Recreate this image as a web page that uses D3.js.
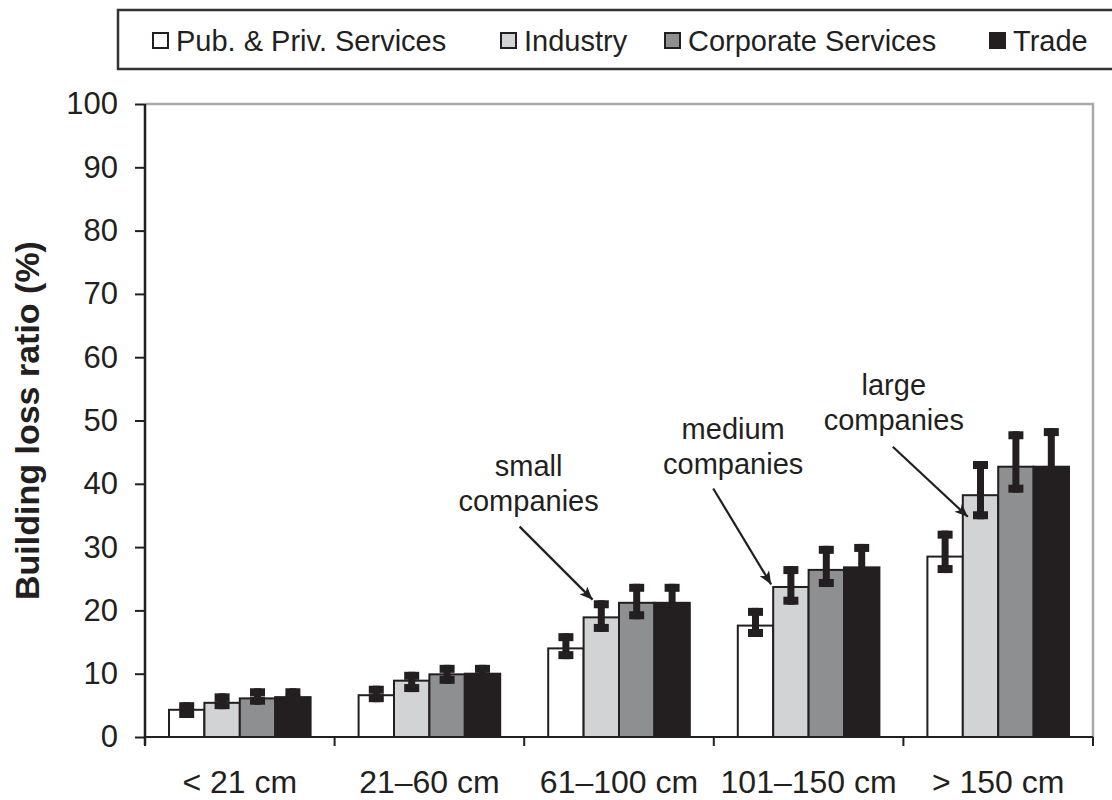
<!DOCTYPE html>
<html>
<head>
<meta charset="utf-8">
<script src="https://cdn.jsdelivr.net/npm/d3@7"></script>
<style>
  body { margin: 0; background: #fff; }
  text { font-family: "Liberation Sans", Arial, sans-serif; fill: #231f20; }
</style>
</head>
<body>
<div class="content"></div>
<script>
// Categories and series
var categories = ["< 21 cm", "21–60 cm", "61–100 cm", "101–150 cm", "> 150 cm"];
var seriesNames = ["Pub. & Priv. Services", "Industry", "Corporate Services", "Trade"];

// Bar values (%), one array per series
var pubValues       = [4.3, 6.6, 14.0, 17.6, 28.5];
var industryValues  = [5.4, 8.9, 18.9, 23.7, 38.2];
var corporateValues = [6.1, 9.9, 21.2, 26.4, 42.7];
var tradeValues     = [6.3, 10.0, 21.2, 26.8, 42.7];

// Error bars: distance above / below the bar top
var pubErrUp        = [1.2, 1.5, 2.4, 2.8, 4.1];
var industryErrUp   = [1.5, 1.4, 2.7, 3.3, 5.4];
var corporateErrUp  = [1.6, 1.5, 3.0, 3.8, 5.6];
var tradeErrUp      = [1.4, 1.4, 3.0, 3.7, 6.1];
var pubErrDown       = [1.3, 1.1, 1.7, 1.8, 2.6];
var industryErrDown  = [1.0, 1.8, 2.3, 2.8, 3.8];
var corporateErrDown = [1.0, 1.5, 2.6, 2.7, 4.1];
var tradeErrDown     = [1.0, 1.5, 2.6, 2.7, 4.1];

var yTicks = [0, 10, 20, 30, 40, 50, 60, 70, 80, 90, 100];

var seriesColors = ["#ffffff", "#d1d3d4", "#8e8f91", "#231f20"];
var ink = "#231f20";

var allValues = [pubValues, industryValues, corporateValues, tradeValues];
var allErrUp = [pubErrUp, industryErrUp, corporateErrUp, tradeErrUp];
var allErrDown = [pubErrDown, industryErrDown, corporateErrDown, tradeErrDown];

// flat table for the bars
var bars = [];
categories.forEach(function(c, ci) {
  seriesNames.forEach(function(s, si) {
    bars.push({cat: c, series: s, si: si,
               value: allValues[si][ci], up: allErrUp[si][ci], down: allErrDown[si][ci]});
  });
});

var width = 1112, height = 800;
var plot = {left: 145, right: 1093, top: 104, bottom: 737};

var svg = d3.select(".content").append("svg")
    .attr("width", width)
    .attr("height", height);

var x = d3.scaleBand()
  .domain(categories)
  .range([plot.left, plot.right])
  .padding(0);

var xSub = d3.scaleBand()
  .domain(seriesNames)
  .range([24, x.bandwidth() - 24])
  .padding(0);

var y = d3.scaleLinear()
  .domain([0, 100])
  .range([plot.bottom, plot.top]);

// gray frame top and right
svg.append("path")
  .attr("d", "M" + plot.left + "," + plot.top + "H" + plot.right + "V" + plot.bottom)
  .attr("fill", "none")
  .attr("stroke", "#a7a9ac")
  .attr("stroke-width", 2.5);

// Y axis
var yAxis = svg.append("g")
  .attr("transform", "translate(" + plot.left + ",0)")
  .call(d3.axisLeft(y).tickValues(yTicks).tickSize(10).tickPadding(17).tickSizeOuter(0));
yAxis.select(".domain").remove();
yAxis.selectAll(".tick line").attr("stroke", ink).attr("stroke-width", 2);
yAxis.selectAll(".tick text")
  .style("font-size", "31px")
  .style("font-family", "'Liberation Sans', Arial, sans-serif")
  .attr("fill", ink);

// X axis labels
var xAxis = svg.append("g")
  .attr("transform", "translate(0," + plot.bottom + ")")
  .call(d3.axisBottom(x).tickSize(0).tickPadding(33));
xAxis.select(".domain").remove();
xAxis.selectAll(".tick text")
  .style("font-size", "32px")
  .style("font-family", "'Liberation Sans', Arial, sans-serif")
  .attr("fill", ink);

// boundary ticks on the x axis
svg.append("g").selectAll("line")
  .data(d3.range(categories.length + 1))
  .enter().append("line")
    .attr("x1", function(i) { return plot.left + i * x.step(); })
    .attr("x2", function(i) { return plot.left + i * x.step(); })
    .attr("y1", plot.bottom)
    .attr("y2", plot.bottom + 9)
    .attr("stroke", ink)
    .attr("stroke-width", 2);

// Bars
svg.append("g").selectAll("rect")
  .data(bars)
  .enter().append("rect")
    .attr("x", function(d) { return x(d.cat) + xSub(d.series); })
    .attr("y", function(d) { return y(d.value); })
    .attr("width", xSub.bandwidth())
    .attr("height", function(d) { return y(0) - y(d.value); })
    .attr("fill", function(d) { return seriesColors[d.si]; })
    .attr("stroke", ink)
    .attr("stroke-width", 2);

// Error bars (thick I shape)
var capW = 15, capH = 8, stemW = 7;
var eb = svg.append("g").selectAll("g")
  .data(bars)
  .enter().append("g")
    .attr("transform", function(d) {
      return "translate(" + (x(d.cat) + xSub(d.series) + xSub.bandwidth() / 2) + ",0)";
    });
eb.append("rect")
  .attr("x", -stemW / 2)
  .attr("y", function(d) { return y(d.value + d.up); })
  .attr("width", stemW)
  .attr("height", function(d) { return y(d.value - d.down) - y(d.value + d.up); })
  .attr("fill", ink);
eb.append("rect")
  .attr("x", -capW / 2)
  .attr("y", function(d) { return y(d.value + d.up); })
  .attr("width", capW)
  .attr("height", capH)
  .attr("fill", ink);
eb.append("rect")
  .attr("x", -capW / 2)
  .attr("y", function(d) { return y(d.value - d.down) - capH; })
  .attr("width", capW)
  .attr("height", capH)
  .attr("fill", ink);

// Y axis line (drawn on top of bars' left edge)
svg.append("line")
  .attr("x1", plot.left).attr("x2", plot.left)
  .attr("y1", plot.top).attr("y2", plot.bottom + 8)
  .attr("stroke", ink)
  .attr("stroke-width", 2.5);
// X axis line
svg.append("line")
  .attr("x1", plot.left).attr("x2", plot.right)
  .attr("y1", plot.bottom).attr("y2", plot.bottom)
  .attr("stroke", ink)
  .attr("stroke-width", 2);

// Y axis title
svg.append("text")
  .attr("transform", "translate(39," + ((plot.top + plot.bottom) / 2) + ") rotate(-90)")
  .attr("text-anchor", "middle")
  .style("font-size", "34px")
  .style("font-weight", "bold")
  .text("Building loss ratio (%)");

// Annotations with arrows
var annotations = [
  {lines: ["small", "companies"],  ci: 2, si: 1, at: 21.7, tipDx: 9,  arrowDx: -73, arrowDy: -73, textDx: -64, textDy: -124},
  {lines: ["medium", "companies"], ci: 3, si: 1, at: 24.1, tipDx: -2, arrowDx: -58, arrowDy: -96, textDx: -38, textDy: -145},
  {lines: ["large", "companies"],  ci: 4, si: 1, at: 34.8, tipDx: 5,  arrowDx: -75, arrowDy: -70, textDx: -74, textDy: -122}
];

svg.append("defs").append("marker")
  .attr("id", "arrow")
  .attr("viewBox", "0 0 12 10")
  .attr("refX", 12).attr("refY", 5)
  .attr("markerWidth", 14).attr("markerHeight", 11)
  .attr("markerUnits", "userSpaceOnUse")
  .attr("orient", "auto")
  .append("path")
    .attr("d", "M0,0L12,5L0,10L3,5Z")
    .attr("fill", ink);

var ann = svg.append("g").selectAll("g")
  .data(annotations)
  .enter().append("g")
    .attr("transform", function(d) {
      return "translate(" + (x(categories[d.ci]) + xSub(seriesNames[d.si]) + d.tipDx) + "," + y(d.at) + ")";
    });
ann.append("line")
  .attr("x1", function(d) { return d.arrowDx; })
  .attr("y1", function(d) { return d.arrowDy; })
  .attr("x2", 0).attr("y2", 0)
  .attr("stroke", ink)
  .attr("stroke-width", 2.2)
  .attr("marker-end", "url(#arrow)");
ann.append("text")
  .attr("text-anchor", "middle")
  .style("font-size", "29px")
  .selectAll("tspan")
  .data(function(d) { return d.lines.map(function(l, i) { return {l: l, i: i, d: d}; }); })
  .enter().append("tspan")
    .attr("x", function(t) { return t.d.textDx; })
    .attr("y", function(t) { return t.d.textDy + t.i * 35; })
    .text(function(t) { return t.l; });

// Legend
var legendX = [152, 500, 664, 989];
var legend = svg.append("g");
legend.append("rect")
  .attr("x", 118).attr("y", 10)
  .attr("width", 1010).attr("height", 59)
  .attr("fill", "#fff")
  .attr("stroke", "#333")
  .attr("stroke-width", 2.5);
var li = legend.selectAll("g.item")
  .data(seriesNames)
  .enter().append("g")
    .attr("class", "item")
    .attr("transform", function(d, i) { return "translate(" + legendX[i] + ",0)"; });
li.append("rect")
  .attr("x", 1).attr("y", 33)
  .attr("width", 15).attr("height", 15)
  .attr("fill", function(d, i) { return seriesColors[i]; })
  .attr("stroke", ink)
  .attr("stroke-width", 2);
li.append("text")
  .attr("x", 24).attr("y", 51)
  .style("font-size", "29px")
  .text(function(d) { return d; });
</script>
</body>
</html>
